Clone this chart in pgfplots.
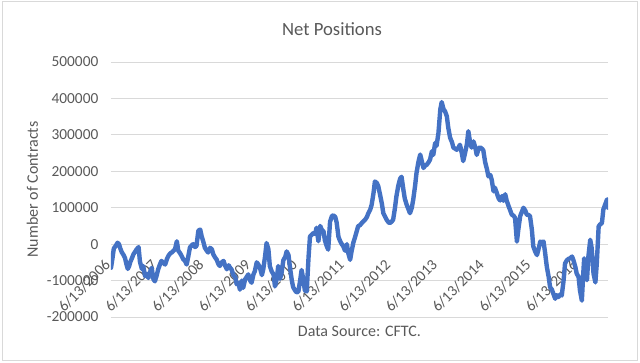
\documentclass[border=0pt]{standalone}
\usepackage{pgfplots}
\pgfplotsset{compat=1.18}
\usepackage{pgfplotstable}
\usepackage{fontspec}
\setmainfont{Carlito}
\definecolor{txt}{HTML}{595959}
\definecolor{grd}{HTML}{D9D9D9}
\definecolor{ln}{HTML}{4472C4}
\pgfplotstableread{
yr val
0.00 -65000
0.03 -40000
0.06 -12000
0.10 -5000
0.14 4000
0.17 0
0.20 -12000
0.23 -22000
0.27 -30000
0.30 -38000
0.33 -55000
0.36 -68000
0.39 -60000
0.41 -50000
0.45 -38000
0.48 -28000
0.52 -20000
0.55 -14000
0.59 -8000
0.62 -48000
0.66 -68000
0.69 -60000
0.73 -88000
0.77 -82000
0.80 -93000
0.84 -75000
0.87 -65000
0.91 -97000
0.94 -102000
0.98 -85000
1.01 -69000
1.05 -55000
1.08 -46000
1.12 -52000
1.16 -56000
1.20 -40000
1.23 -32000
1.27 -25000
1.30 -23000
1.34 -18000
1.37 -14000
1.41 8000
1.44 -18000
1.48 -25000
1.51 -32000
1.55 -42000
1.58 -45000
1.62 -56000
1.66 -30000
1.69 -9000
1.73 -3000
1.76 0
1.80 -8000
1.83 -5000
1.87 37000
1.91 40000
1.94 22000
1.98 5000
2.01 -10000
2.05 -18000
2.08 -23000
2.12 -10000
2.16 -14000
2.19 -28000
2.23 -37000
2.26 -42000
2.30 -55000
2.33 -60000
2.37 -50000
2.41 -46000
2.44 -58000
2.48 -69000
2.52 -58000
2.55 -65000
2.58 -69000
2.62 -85000
2.66 -90000
2.69 -110000
2.73 -106000
2.76 -125000
2.80 -100000
2.83 -120000
2.87 -97000
2.91 -89000
2.94 -83000
2.98 -100000
3.01 -106000
3.05 -83000
3.08 -74000
3.12 -50000
3.15 -55000
3.19 -65000
3.23 -85000
3.26 -69000
3.30 -32000
3.33 3000
3.37 -14000
3.40 -60000
3.44 -75000
3.48 -83000
3.51 -116000
3.55 -95000
3.58 -60000
3.62 -95000
3.65 -80000
3.69 -44000
3.73 -35000
3.76 -20000
3.80 -30000
3.83 -62000
3.87 -99000
3.90 -118000
3.94 -127000
3.97 -132000
4.01 -131000
4.05 -99000
4.08 -71000
4.12 -99000
4.15 -127000
4.19 -130000
4.23 -34000
4.26 21000
4.30 26000
4.34 31000
4.37 28000
4.40 45000
4.44 8000
4.48 50000
4.51 40000
4.55 35000
4.58 10000
4.62 -6000
4.65 -15000
4.69 62000
4.73 77000
4.76 79000
4.80 75000
4.83 60000
4.87 20000
4.90 10000
4.94 0
4.97 -5000
5.01 -18000
5.05 0
5.08 -25000
5.12 -43000
5.15 -20000
5.19 5000
5.22 17000
5.26 35000
5.29 49000
5.33 52000
5.37 58000
5.40 62000
5.44 67000
5.48 75000
5.51 85000
5.55 95000
5.58 108000
5.62 140000
5.65 172000
5.69 168000
5.72 160000
5.76 136000
5.80 110000
5.83 85000
5.87 75000
5.90 67000
5.94 60000
5.97 58000
6.01 62000
6.04 67000
6.08 100000
6.11 131000
6.15 160000
6.19 180000
6.22 185000
6.26 149000
6.29 125000
6.33 108000
6.37 95000
6.40 85000
6.44 100000
6.47 122000
6.51 160000
6.54 195000
6.58 225000
6.62 246000
6.65 230000
6.69 209000
6.72 215000
6.76 218000
6.80 225000
6.83 232000
6.87 255000
6.90 245000
6.94 278000
6.97 270000
7.01 305000
7.05 370000
7.08 390000
7.12 370000
7.15 365000
7.19 351000
7.22 320000
7.26 292000
7.30 280000
7.33 265000
7.37 262000
7.40 259000
7.44 265000
7.47 273000
7.51 250000
7.54 228000
7.58 250000
7.62 275000
7.65 310000
7.69 278000
7.72 265000
7.76 282000
7.80 265000
7.83 245000
7.87 262000
7.90 266000
7.94 262000
7.97 258000
8.01 225000
8.05 205000
8.08 186000
8.12 190000
8.15 177000
8.19 145000
8.22 155000
8.26 140000
8.30 125000
8.33 120000
8.37 132000
8.40 119000
8.44 137000
8.47 120000
8.51 105000
8.54 95000
8.58 81000
8.62 78000
8.65 72000
8.69 7000
8.72 40000
8.76 77000
8.80 90000
8.83 100000
8.87 92000
8.90 81000
8.94 80000
8.97 77000
9.01 40000
9.04 -6000
9.08 -20000
9.12 -30000
9.15 -15000
9.19 7000
9.22 5000
9.26 7000
9.29 -20000
9.33 -62000
9.37 -90000
9.40 -118000
9.44 -125000
9.47 -136000
9.51 -150000
9.54 -140000
9.58 -145000
9.62 -138000
9.65 -141000
9.69 -99000
9.72 -53000
9.76 -44000
9.80 -40000
9.83 -39000
9.87 -34000
9.90 -44000
9.94 -62000
9.97 -81000
10.01 -90000
10.04 -127000
10.08 -155000
10.11 -81000
10.13 -39000
10.16 -70000
10.19 -99000
10.22 -34000
10.26 12000
10.29 -10000
10.33 -81000
10.37 -105000
10.40 -53000
10.44 49000
10.47 54000
10.51 58000
10.54 95000
10.58 109000
10.62 123000
10.64 100000
}\netpos
\begin{document}
\begin{tikzpicture}
\useasboundingbox (0,0) rectangle (480pt,271.5pt);
\draw[grd, line width=0.75pt] (1.5pt,1.5pt) rectangle (477.75pt,270.75pt);
\begin{axis}[
  at={(83.25pt,33.75pt)}, anchor=south west,
  scale only axis, width=372.75pt, height=191.25pt,
  xmin=0, xmax=10.64, ymin=-200000, ymax=500000,
  axis line style={draw=none},
  major tick length=0pt,
  scaled y ticks=false,
  ytick={-200000,-100000,0,100000,200000,300000,400000,500000},
  yticklabels={-200000,-100000,0,100000,200000,300000,400000,500000},
  xtick={0,1,2,3,4,5,6,7,8,9,10},
  xticklabels={6/13/2006,6/13/2007,6/13/2008,6/13/2009,6/13/2010,6/13/2011,6/13/2012,6/13/2013,6/13/2014,6/13/2015,6/13/2016},
  ymajorgrids, grid style={grd, line width=0.75pt},
  tick label style={font=\fontsize{11.5}{13}\selectfont, text=txt},
  yticklabel style={xshift=-6pt},
  xticklabel style={yshift=43.5pt, rotate=45, anchor=east},
  title={Net Positions},
  title style={at={(axis description cs:0.4447,1.074)}, anchor=base, font=\fontsize{14}{17}\selectfont, text=txt},
  xlabel={Data Source: CFTC.},
  xlabel style={at={(axis description cs:0.5,-0.078)}, anchor=base, font=\fontsize{12}{14}\selectfont, text=txt},
  ylabel={Number of Contracts},
  ylabel style={at={(axis description cs:-0.158,0.5)}, anchor=center, font=\fontsize{12}{14}\selectfont, text=txt},
]
\addplot[ln, line width=3.3pt, line join=round, line cap=round, mark=none] table[x=yr, y=val] {\netpos};
\end{axis}
\end{tikzpicture}
\end{document}
